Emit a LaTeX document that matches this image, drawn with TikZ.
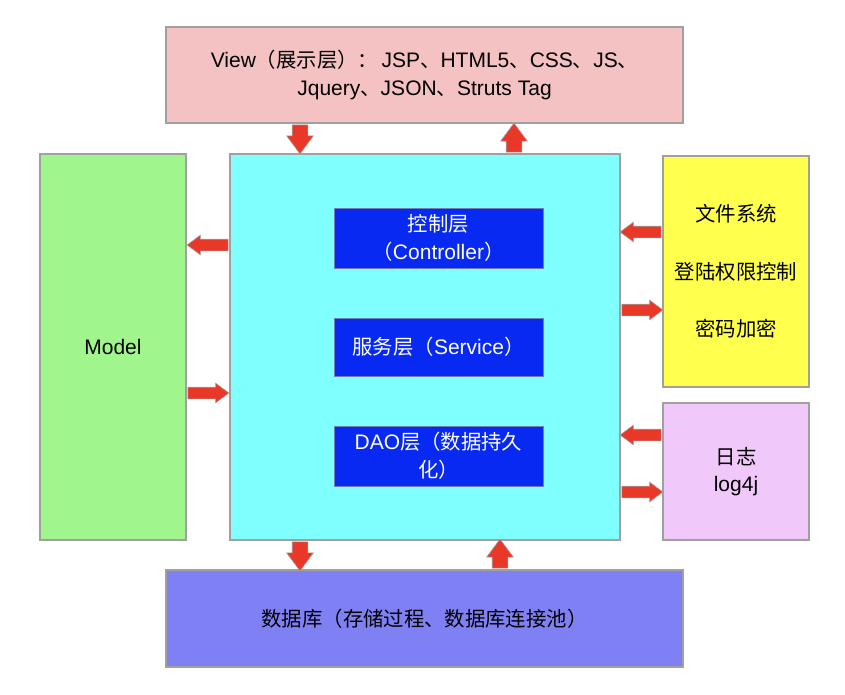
\documentclass[tikz,border=0pt]{standalone}
\usepackage{fontspec}
\setmainfont{Liberation Sans}
\newfontfamily\cjk[Scale=0.97]{Noto Sans CJK SC}
\usetikzlibrary{shapes.arrows,calc}
\newcommand\zh[1]{{\cjk #1}}
\definecolor{viewpink}{HTML}{F4C2C2}
\definecolor{modelgreen}{HTML}{A0F58C}
\definecolor{corecyan}{HTML}{80FFFF}
\definecolor{sideyellow}{HTML}{FFFF4D}
\definecolor{loglilac}{HTML}{F0C8FA}
\definecolor{dbblue}{HTML}{8080F5}
\definecolor{layerblue}{HTML}{0729F2}
\definecolor{arrowred}{HTML}{EA3828}
\definecolor{edgegrey}{HTML}{A0A0A0}
\tikzset{
  box/.style={draw=edgegrey, line width=1.2pt, rectangle, inner sep=0pt, align=center,
    font=\fontsize{21}{28}\selectfont},
  layer/.style={box, fill=layerblue, draw=edgegrey!70!layerblue, line width=0.8pt, text=white,
    minimum width=209pt},
  barrow/.style={single arrow, fill=arrowred, draw=edgegrey, line width=0.6pt,
    inner xsep=0pt, minimum width=0pt, anchor=tail,
    single arrow tip angle=73, single arrow head indent=0pt},
  varrow/.style={barrow, minimum height=29pt, inner ysep=7.5pt, single arrow head extend=5.5pt},
  harrow/.style={barrow, minimum height=41pt, inner ysep=5.5pt, single arrow head extend=4pt},
}
\begin{document}
\begin{tikzpicture}[x=1pt,y=-1pt]
\useasboundingbox (0,0) rectangle (845,695);
\node[box, fill=viewpink, minimum width=517pt, minimum height=96pt] (view) at (424.5,75)
  {View\zh{（展示层）：}\,JSP\zh{、}HTML5\zh{、}CSS\zh{、}JS\zh{、}\\Jquery\zh{、}JSON\zh{、}Struts Tag};
\node[box, fill=modelgreen, minimum width=146pt, minimum height=386pt] (model) at (113,347) {Model};
\node[box, fill=corecyan, minimum width=390pt, minimum height=386pt] (core) at (425,347) {};
\node[box, fill=sideyellow, minimum width=146pt, minimum height=231pt] (sys) at (736,271.5)
  {\zh{文件系统}\\[29.5pt]\zh{登陆权限控制}\\[29.5pt]\zh{密码加密}};
\node[box, fill=loglilac, minimum width=146pt, minimum height=137pt] (log) at (736,471.5)
  {\zh{日志}\\[-1pt]log4j};
\node[box, fill=dbblue, minimum width=517pt, minimum height=97pt] (db) at (424.5,618.5)
  {\zh{数据库（存储过程、数据库连接池）}};
\node[layer, minimum height=60pt] (ctrl) at (438.5,238) {\zh{控制层}\\\zh{（}Controller\zh{）}};
\node[layer, minimum height=58pt] (svc) at (438.5,347) {\zh{服务层（}Service\zh{）}};
\node[layer, minimum height=60pt] (dao) at (438.5,456) {DAO\zh{层（数据持久}\\\zh{化）}};
% arrows between view and core
\node[varrow, rotate=-90] (a1) at ($(view.south -| 300,0)+(0,1)$) {};
\node[varrow, rotate=90] (a2) at ($(core.north -| 514,0)+(0,-1)$) {};
% arrows between model and core
\node[harrow, rotate=180] (a3) at ($(core.west |- 0,245)+(-1,0)$) {};
\node[harrow] (a4) at ($(model.east |- 0,393)+(1,0)$) {};
% arrows between core and side boxes
\node[harrow, rotate=180] (a5) at ($(sys.west |- 0,232)+(-1,0)$) {};
\node[harrow] (a6) at ($(core.east |- 0,310)+(1,0)$) {};
\node[harrow, rotate=180] (a7) at ($(log.west |- 0,435)+(-1,0)$) {};
\node[harrow] (a8) at ($(core.east |- 0,492)+(1,0)$) {};
% arrows between core and db
\node[varrow, rotate=-90] (a9) at ($(core.south -| 300,0)+(0,1)$) {};
\node[varrow, rotate=90] (a10) at ($(db.north -| 500,0)+(0,-1)$) {};
\end{tikzpicture}
\end{document}
